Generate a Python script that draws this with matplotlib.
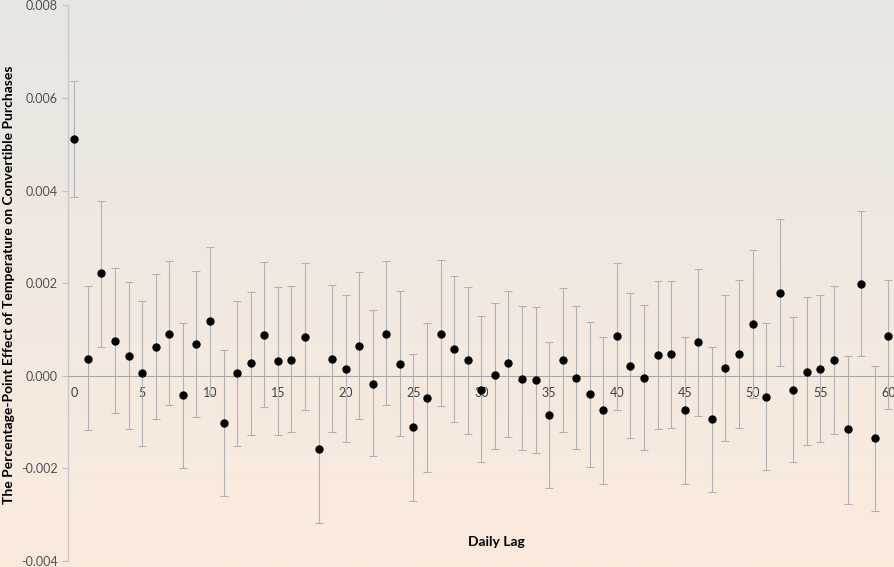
import numpy as np
import matplotlib
matplotlib.use("Agg")
import matplotlib.pyplot as plt
from matplotlib.ticker import FormatStrFormatter, MultipleLocator

plt.rcParams['font.family'] = ['Lato', 'DejaVu Sans']

# Daily lag of temperature and its estimated effect with 95% confidence bounds
lags = list(range(61))
effect = [0.00511, 0.00037, 0.00221, 0.00075, 0.00043, 0.00005, 0.00063, 0.00091, -0.00042, 0.00068,
          0.00119, -0.00102, 0.00005, 0.00027, 0.00089, 0.00032, 0.00035, 0.00084, -0.00158, 0.00037,
          0.00015, 0.00065, -0.00017, 0.00091, 0.00025, -0.00111, -0.00048, 0.00091, 0.00057, 0.00033,
          -0.00030, 0.00001, 0.00027, -0.00006, -0.00009, -0.00084, 0.00034, -0.00004, -0.00040, -0.00074,
          0.00086, 0.00021, -0.00005, 0.00044, 0.00046, -0.00075, 0.00072, -0.00094, 0.00017, 0.00047,
          0.00111, -0.00045, 0.00179, -0.00030, 0.00009, 0.00015, 0.00035, -0.00116, 0.00199, -0.00134,
          0.00085]
ci_low = [0.00385, -0.00118, 0.00063, -0.00081, -0.00116, -0.00151, -0.00094, -0.00064, -0.00200, -0.00090,
          -0.00039, -0.00260, -0.00151, -0.00129, -0.00068, -0.00127, -0.00122, -0.00073, -0.00317, -0.00122,
          -0.00144, -0.00094, -0.00174, -0.00064, -0.00131, -0.00271, -0.00207, -0.00066, -0.00100, -0.00125,
          -0.00186, -0.00158, -0.00132, -0.00161, -0.00166, -0.00243, -0.00122, -0.00159, -0.00196, -0.00233,
          -0.00073, -0.00135, -0.00161, -0.00116, -0.00113, -0.00233, -0.00086, -0.00252, -0.00141, -0.00113,
          -0.00047, -0.00204, 0.00020, -0.00187, -0.00150, -0.00144, -0.00125, -0.00276, 0.00042, -0.00291,
          -0.00072]
ci_high = [0.00636, 0.00193, 0.00377, 0.00233, 0.00202, 0.00162, 0.00219, 0.00247, 0.00114, 0.00227,
           0.00277, 0.00056, 0.00162, 0.00181, 0.00245, 0.00191, 0.00193, 0.00243, 0.00000, 0.00196,
           0.00174, 0.00223, 0.00141, 0.00248, 0.00182, 0.00048, 0.00113, 0.00249, 0.00215, 0.00191,
           0.00128, 0.00158, 0.00184, 0.00150, 0.00148, 0.00073, 0.00189, 0.00151, 0.00115, 0.00084,
           0.00243, 0.00178, 0.00152, 0.00204, 0.00204, 0.00083, 0.00230, 0.00063, 0.00174, 0.00206,
           0.00271, 0.00113, 0.00338, 0.00126, 0.00169, 0.00174, 0.00193, 0.00043, 0.00356, 0.00022,
           0.00207]
x_ticks = list(range(0, 61, 5))

fig = plt.figure(figsize=(8.95, 5.67), dpi=100)

# soft vertical gradient behind everything
bg = fig.add_axes([0, 0, 1, 1], zorder=-10)
top = np.array([232, 230, 227]) / 255.0
bottom = np.array([251, 235, 221]) / 255.0
t = np.linspace(0, 1, 256)[:, None, None]
grad = top[None, None, :] * (1 - t) + bottom[None, None, :] * t
bg.imshow(grad, aspect='auto', extent=[0, 1, 0, 1], origin='upper')
bg.set_axis_off()

ax = fig.add_axes([0.0755, 0.0106, 0.9245, 0.9801])
ax.set_facecolor('none')

eff = np.array(effect)
lo = eff - np.array(ci_low)
hi = np.array(ci_high) - eff
ax.errorbar(lags, eff, yerr=[lo, hi], fmt='none', ecolor='#B0B0B0',
            elinewidth=0.75, capsize=3.0, capthick=0.75, zorder=2)
ax.plot(lags, eff, 'o', color='black', markersize=5, zorder=3)

ax.set_xlim(-0.5, 60.5)
ax.set_ylim(-0.004, 0.008)

ax.yaxis.set_major_locator(MultipleLocator(0.002))
ax.yaxis.set_major_formatter(FormatStrFormatter('%.3f'))
ax.tick_params(axis='y', direction='out', length=4, width=0.8, color='#BFBFBF',
               labelcolor='#505050', labelsize=9, pad=3)

ax.set_xticks(x_ticks)
ax.tick_params(axis='x', length=0, labelcolor='#404040', labelsize=9, pad=8)

for side in ('top', 'right'):
    ax.spines[side].set_visible(False)
ax.spines['left'].set_color('#C8C8C8')
ax.spines['left'].set_linewidth(1.0)
ax.spines['bottom'].set_position(('data', 0))
ax.spines['bottom'].set_color('#A6A6A6')
ax.spines['bottom'].set_linewidth(0.8)

fig.text(0.0095, 0.497, 'The Percentage-Point Effect of Temperature on Convertible Purchases',
         rotation=90, ha='center', va='center', fontsize=10, fontweight='bold', color='black')
fig.text(0.555, 0.044, 'Daily Lag', ha='center', va='center', fontsize=10,
         fontweight='bold', color='black')

fig.savefig('out.png', dpi=100)
